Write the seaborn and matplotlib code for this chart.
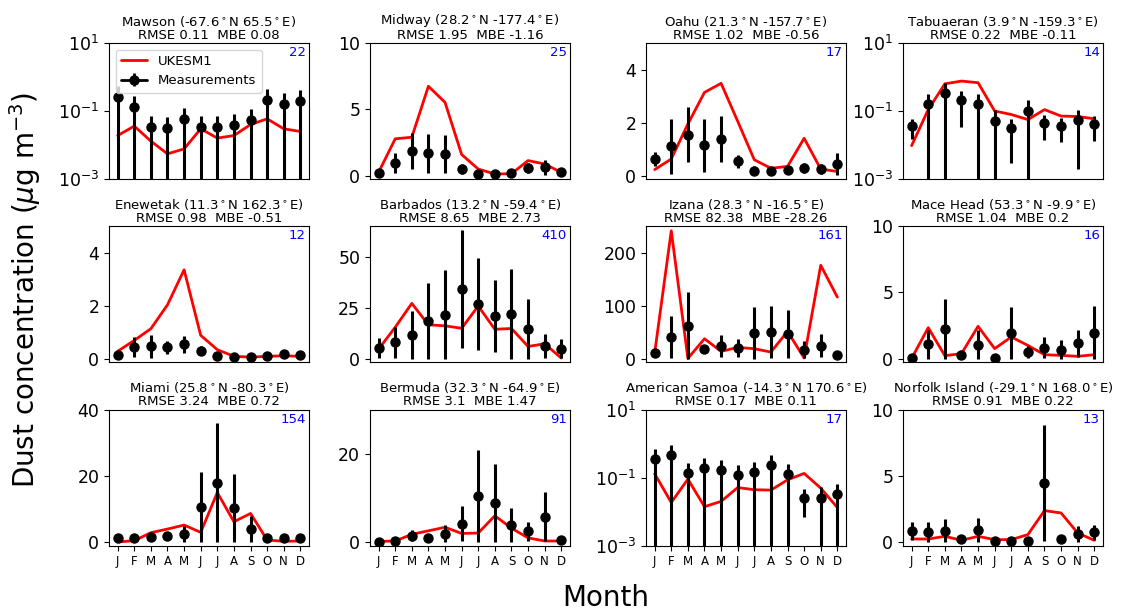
import numpy as np
import matplotlib
matplotlib.use("Agg")
import matplotlib.pyplot as plt
from matplotlib.ticker import NullLocator
import seaborn as sns

sns.set_style("ticks")
plt.rcParams['font.family'] = ['DejaVu Sans']
plt.rcParams.update({'text.color': 'black', 'axes.labelcolor': 'black',
                     'xtick.color': 'black', 'ytick.color': 'black',
                     'axes.edgecolor': 'black'})

months = ['J', 'F', 'M', 'A', 'M', 'J', 'J', 'A', 'S', 'O', 'N', 'D']

# estacoes (linha a linha, 4 por linha)
stations = ['Mawson', 'Midway', 'Oahu', 'Tabuaeran',
            'Enewetak', 'Barbados', 'Izana', 'Mace Head',
            'Miami', 'Bermuda', 'American Samoa', 'Norfolk Island']
lats = [-67.6, 28.2, 21.3, 3.9, 11.3, 13.2, 28.3, 53.3, 25.8, 32.3, -14.3, -29.1]
lons = [65.5, -177.4, -157.7, -159.3, 162.3, -59.4, -16.5, -9.9, -80.3, -64.9, 170.6, 168.0]
rmse = [0.11, 1.95, 1.02, 0.22, 0.98, 8.65, 82.38, 1.04, 3.24, 3.1, 0.17, 0.91]
mbe = [0.08, -1.16, -0.56, -0.11, -0.51, 2.73, -28.26, 0.2, 0.72, 1.47, 0.11, 0.22]
counts = [22, 25, 17, 14, 12, 410, 161, 16, 154, 91, 17, 13]

# medias mensais medidas, desvio padrao e modelo
mawson_obs = [0.26, 0.135, 0.035, 0.032, 0.059, 0.035, 0.035, 0.040, 0.056, 0.21, 0.166, 0.20]
mawson_std = [0.27, 0.14, 0.036, 0.033, 0.06, 0.036, 0.036, 0.042, 0.057, 0.22, 0.17, 0.21]
mawson_mod = [0.019, 0.036, 0.013, 0.0055, 0.0077, 0.030, 0.016, 0.019, 0.040, 0.059, 0.030, 0.025]

midway_obs = [0.23, 0.96, 1.84, 1.69, 1.64, 0.50, 0.13, 0.13, 0.20, 0.56, 0.63, 0.25]
midway_std = [0.1, 0.78, 1.36, 1.47, 1.44, 0.4, 0.08, 0.08, 0.1, 0.37, 0.55, 0.1]
midway_mod = [0.25, 2.78, 2.9, 6.74, 5.53, 1.6, 0.5, 0.13, 0.15, 1.14, 0.88, 0.25]

oahu_obs = [0.63, 1.11, 1.55, 1.14, 1.38, 0.54, 0.19, 0.16, 0.23, 0.28, 0.25, 0.44]
oahu_std = [0.27, 1.03, 1.05, 1.01, 0.87, 0.25, 0.16, 0.12, 0.15, 0.19, 0.19, 0.42]
oahu_mod = [0.23, 0.63, 1.95, 3.14, 3.48, 2.05, 0.6, 0.28, 0.35, 1.41, 0.25, 0.16]

tabua_obs = [0.037, 0.16, 0.336, 0.214, 0.162, 0.052, 0.031, 0.103, 0.044, 0.037, 0.056, 0.041]
tabua_std = [0.022, 0.165, 0.34, 0.18, 0.165, 0.053, 0.028, 0.104, 0.030, 0.025, 0.054, 0.028]
tabua_mod = [0.0096, 0.11, 0.63, 0.76, 0.68, 0.10, 0.079, 0.056, 0.11, 0.071, 0.069, 0.059]

enew_obs = [0.15, 0.43, 0.46, 0.43, 0.55, 0.30, 0.09, 0.06, 0.06, 0.11, 0.18, 0.15]
enew_std = [0.05, 0.37, 0.44, 0.25, 0.32, 0.16, 0.04, 0.03, 0.03, 0.05, 0.10, 0.05]
enew_mod = [0.28, 0.69, 1.13, 2.03, 3.35, 0.88, 0.34, 0.09, 0.06, 0.09, 0.11, 0.09]

barb_obs = [5.2, 8.0, 11.7, 18.5, 21.6, 34.1, 26.8, 20.9, 21.8, 14.4, 6.3, 4.9]
barb_std = [5.0, 7.5, 11.8, 18.5, 21.7, 28.7, 22.3, 17.7, 21.9, 14.7, 6.0, 4.8]
barb_mod = [4.7, 15.4, 27.1, 16.6, 16.1, 14.9, 25.8, 14.4, 14.8, 6.0, 7.3, 0.3]

izana_obs = [10.7, 40.8, 62.0, 18.2, 23.2, 20.0, 48.3, 49.5, 46.4, 17.0, 24.5, 6.9]
izana_std = [7.0, 38.8, 62.8, 8.1, 20.7, 17.6, 48.9, 48.9, 44.5, 15.6, 21.9, 2.0]
izana_mod = [10.7, 241.0, 0.5, 37.6, 13.8, 21.3, 18.8, 12.5, 51.4, 1.3, 176.0, 116.0]

mace_obs = [0.05, 1.08, 2.27, 0.25, 1.06, 0.08, 1.94, 0.50, 0.83, 0.65, 1.16, 1.96]
mace_std = [0.05, 1.11, 2.26, 0.1, 1.08, 0.05, 1.96, 0.43, 0.81, 0.74, 1.03, 1.99]
mace_mod = [0.02, 2.34, 0.23, 0.38, 2.44, 0.76, 1.64, 1.0, 0.3, 0.25, 0.18, 0.3]

miami_obs = [1.2, 1.4, 1.7, 1.9, 2.4, 10.6, 17.8, 10.3, 3.9, 1.4, 1.2, 1.4]
miami_std = [0.4, 0.8, 1.0, 0.8, 2.5, 10.7, 18.1, 10.3, 3.9, 1.0, 0.5, 0.8]
miami_mod = [0.1, 0.5, 2.9, 4.0, 5.2, 3.0, 15.0, 6.2, 8.7, 0.7, 0.3, 0.4]

berm_obs = [0.15, 0.3, 1.5, 1.0, 1.9, 4.2, 10.4, 8.8, 3.9, 2.5, 5.8, 0.5]
berm_std = [0.1, 0.2, 1.3, 0.3, 2.0, 4.0, 10.4, 8.8, 3.9, 2.1, 5.6, 0.2]
berm_mod = [0.2, 0.3, 1.8, 2.6, 3.4, 2.0, 2.1, 6.0, 3.2, 1.0, 0.3, 0.3]

samoa_obs = [0.35, 0.45, 0.136, 0.186, 0.162, 0.116, 0.145, 0.229, 0.127, 0.026, 0.0255, 0.0327]
samoa_std = [0.36, 0.46, 0.14, 0.19, 0.165, 0.12, 0.15, 0.23, 0.13, 0.019, 0.026, 0.033]
samoa_mod = [0.13, 0.0186, 0.090, 0.014, 0.020, 0.051, 0.044, 0.043, 0.086, 0.133, 0.049, 0.0132]

norf_obs = [0.83, 0.78, 0.88, 0.28, 0.90, 0.08, 0.10, 0.10, 4.47, 0.25, 0.65, 0.75]
norf_std = [0.67, 0.72, 0.88, 0.05, 0.93, 0.03, 0.03, 0.03, 4.4, 0.05, 0.6, 0.56]
norf_mod = [0.25, 0.25, 0.45, 0.15, 0.45, 0.2, 0.2, 0.58, 2.39, 2.21, 0.7, 0.15]

obs_all = [mawson_obs, midway_obs, oahu_obs, tabua_obs, enew_obs, barb_obs,
           izana_obs, mace_obs, miami_obs, berm_obs, samoa_obs, norf_obs]
std_all = [mawson_std, midway_std, oahu_std, tabua_std, enew_std, barb_std,
           izana_std, mace_std, miami_std, berm_std, samoa_std, norf_std]
mod_all = [mawson_mod, midway_mod, oahu_mod, tabua_mod, enew_mod, barb_mod,
           izana_mod, mace_mod, miami_mod, berm_mod, samoa_mod, norf_mod]

# eixo y: None = escala log
ytops = [None, 10, 5, None, 5, 65, 250, 10, 40, 30, None, 10]
yticks = [None, [0, 5, 10], [0, 2, 4], None, [0, 2, 4], [0, 25, 50], [0, 100, 200],
          [0, 5, 10], [0, 20, 40], [0, 20], None, [0, 5, 10]]

fig = plt.figure(figsize=(11.31, 6.11), dpi=100)
lefts = [0.0964, 0.3271, 0.5712, 0.7984]
bottoms = [0.707, 0.4075, 0.107]
w, h = 0.1768, 0.2226

x = np.arange(1, 13)
for i, nome in enumerate(stations):
    row, col = divmod(i, 4)
    ax = fig.add_axes([lefts[col], bottoms[row], w, h])
    obs = np.array(obs_all[i])
    std = np.array(std_all[i])
    lower = np.minimum(std, obs)

    if ytops[i] is None:
        ax.set_yscale('log', nonpositive='clip')

    sns.lineplot(x=x, y=mod_all[i], color='red', lw=2, ax=ax, legend=False, zorder=2)
    ax.errorbar(x, obs, yerr=[lower, std], fmt='o', color='k', ms=6.5,
                elinewidth=2.2, capsize=0, zorder=3)

    if ytops[i] is None:
        ax.set_ylim(1e-3, 1e1)
        ax.set_yticks([1e-3, 1e-1, 1e1])
        ax.yaxis.set_minor_locator(NullLocator())
    else:
        ax.set_ylim(-0.025 * ytops[i], ytops[i])
        ax.set_yticks(yticks[i])
    ax.tick_params(axis='y', labelsize=12.5)

    ax.set_xlim(0.48, 12.52)
    ax.set_xticks(x)
    if row == 2:
        ax.set_xticklabels(months, fontsize=8.5)
    else:
        ax.set_xticks([])
    ax.set_xlabel('')
    ax.set_ylabel('')

    titulo = (f"{nome} ({lats[i]:.1f}$^\\circ$N {lons[i]:.1f}$^\\circ$E)\n"
              f"RMSE {rmse[i]}  MBE {mbe[i]}")
    ax.set_title(titulo, fontsize=9.5, pad=3, linespacing=1.0)
    ax.text(0.985, 0.975, str(counts[i]), color='blue', fontsize=9.5,
            ha='right', va='top', transform=ax.transAxes)

    if i == 0:
        h1, = ax.plot([], [], color='red', lw=2, label='UKESM1')
        h2 = ax.errorbar([np.nan], [np.nan], yerr=[[np.nan], [np.nan]], fmt='-o', color='k',
                         ms=6.5, lw=2, elinewidth=2, label='Measurements')
        ax.legend(handles=[h1, h2], loc='upper left', fontsize=9.5, framealpha=0.8)

fig.text(0.022, 0.525, 'Dust concentration ($\\mu$g m$^{-3}$)', rotation=90,
         fontsize=20, ha='center', va='center')
fig.text(0.536, 0.008, 'Month', fontsize=20, ha='center', va='baseline')

fig.savefig('out.png', dpi=100)
